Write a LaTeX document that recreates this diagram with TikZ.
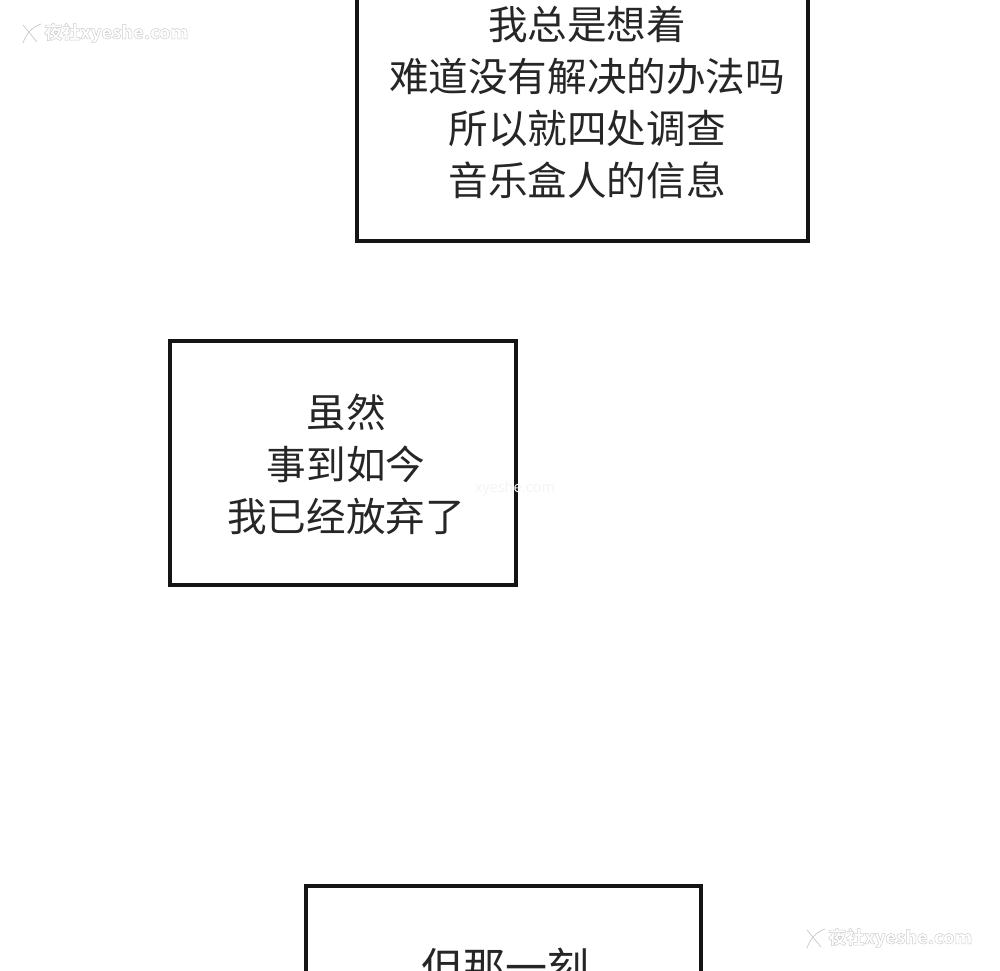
\documentclass[tikz,border=0pt]{standalone}
\usepackage{fontspec}
\newfontfamily\cjk{Noto Sans CJK SC}
\newcommand{\outlined}[1]{\special{pdf:code q 1 Tr 0.35 w 0.8 G}#1\special{pdf:code Q}}
\tikzset{
  x=0.75pt,y=-0.75pt,
  panel/.style={draw=black!92,line width=2.35pt,fill=white,inner sep=0pt,outer sep=0pt},
  says/.style={font=\cjk\fontsize{29.7pt}{39pt}\selectfont,align=center,text=black!85,inner sep=0pt},
  saysbig/.style={font=\cjk\fontsize{31.5pt}{39pt}\selectfont,align=center,text=black!85,inner sep=0pt},
  mark text/.style={font=\cjk\bfseries\fontsize{13.5pt}{16pt}\selectfont,text=black!10,inner sep=0pt,anchor=west},
  mark logo/.style={draw=black!22,line width=0.5pt,line cap=round}
}
\begin{document}
\begin{tikzpicture}
\path[use as bounding box] (0,0) rectangle (1000,971);
\clip (0,0) rectangle (1000,971);
\fill[white] (0,0) rectangle (1000,971);
\node[panel,minimum width=451*0.75pt,minimum height=298*0.75pt] (boxa) at (582.5,92) {};
\node[panel,minimum width=346*0.75pt,minimum height=244*0.75pt] (boxb) at (343,463) {};
\node[panel,minimum width=395*0.75pt,minimum height=200*0.75pt] (boxc) at (503.5,986) {};
\node[says] (texta) at (587,102) {我总是想着\\难道没有解决的办法吗\\所以就四处调查\\音乐盒人的信息};
\node[says] (textb) at (346,464) {虽然\\事到如今\\我已经放弃了};
\node[saysbig] (textc) at (505,967) {但那一刻};
\node[mark text] (marka) at (44,33) {\outlined{夜社xyeshe.com}};
\node[mark text] (markb) at (828,938) {\outlined{夜社xyeshe.com}};
\draw[mark logo] (23,25) -- (37,42) (41,24) .. controls (32,27) and (26,34) .. (23,43);
\draw[mark logo] (807,930) -- (821,947) (825,929) .. controls (816,932) and (810,939) .. (807,948);
\node[font=\cjk\fontsize{11pt}{13pt}\selectfont,text=black!4,inner sep=0pt] (markc) at (515,488) {xyeshe.com};
\end{tikzpicture}
\end{document}
